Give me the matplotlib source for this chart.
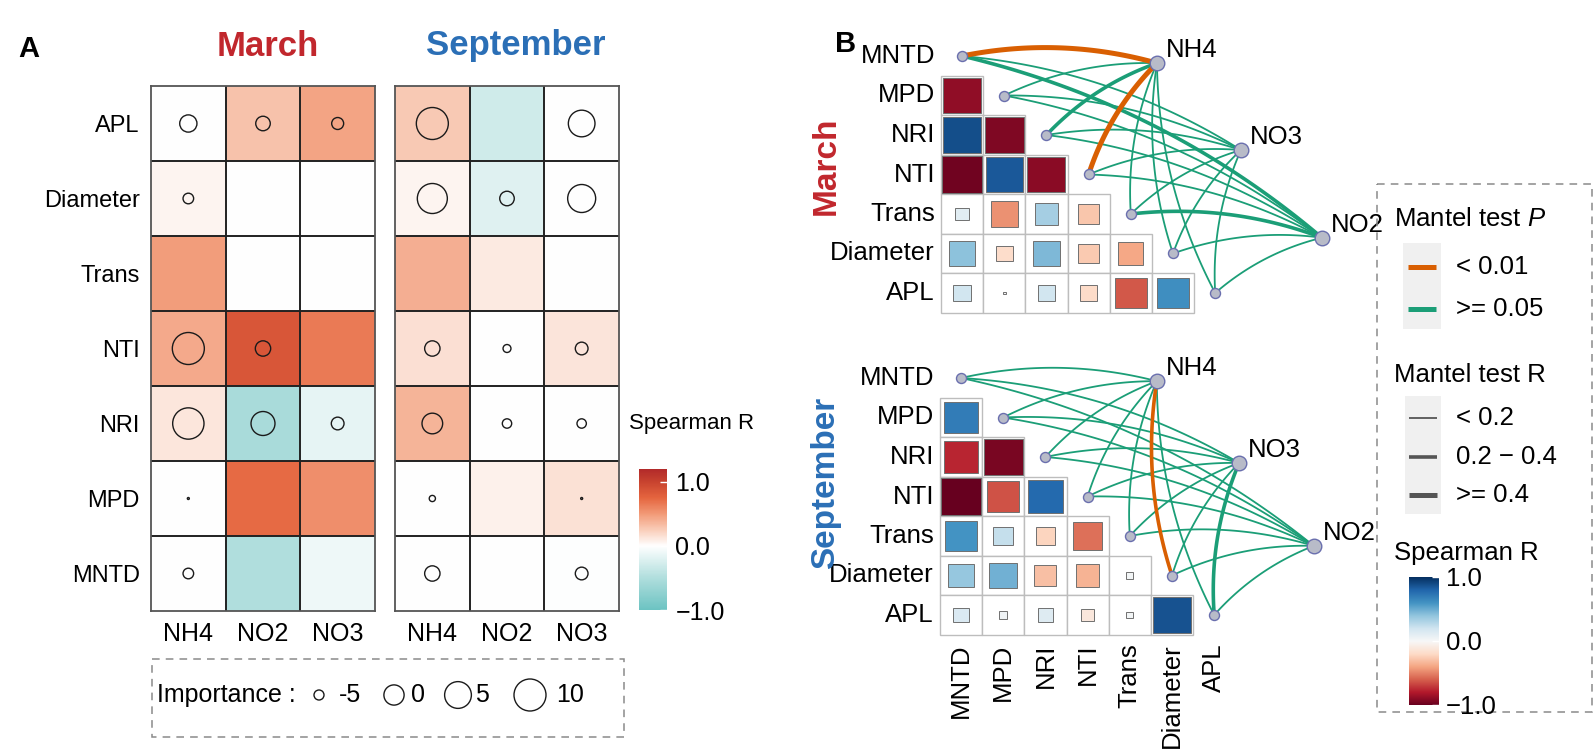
import numpy as np
import matplotlib
matplotlib.use('Agg')
import matplotlib.pyplot as plt
from matplotlib.colors import LinearSegmentedColormap, Normalize
from matplotlib.patches import Rectangle
from matplotlib.cm import ScalarMappable

plt.rcParams['font.family'] = ['Liberation Sans', 'DejaVu Sans']
plt.rcParams['mathtext.fontset'] = 'custom'
plt.rcParams['mathtext.rm'] = 'Liberation Sans'
plt.rcParams['mathtext.it'] = 'Liberation Sans:italic'

nan = np.nan
# ---------------- Panel A data ----------------
a_cols = ['NH4', 'NO2', 'NO3']
a_rows = ['APL', 'Diameter', 'Trans', 'NTI', 'NRI', 'MPD', 'MNTD']
march_rho = [[0.00, 0.30, 0.45],
             [0.05, 0.00, 0.00],
             [0.48, 0.00, 0.00],
             [0.42, 0.85, 0.65],
             [0.12, -0.55, -0.15],
             [0.00, 0.72, 0.55],
             [0.00, -0.50, -0.10]]
march_imp = [[-1.8, -3.2, -4.3],
             [-4.8, nan, nan],
             [nan, nan, nan],
             [10.0, -2.8, nan],
             [9.3, 2.7, -4.0],
             [-6.6, nan, nan],
             [-4.8, nan, nan]]
sept_rho = [[0.27, -0.30, 0.00],
            [0.05, -0.20, 0.00],
            [0.40, 0.10, 0.00],
            [0.16, 0.00, 0.13],
            [0.37, 0.00, 0.00],
            [0.00, 0.07, 0.15],
            [0.00, 0.00, -0.01]]
sept_imp = [[10.0, nan, 4.9],
            [8.0, -3.2, 6.1],
            [nan, nan, nan],
            [-2.8, -5.6, -4.0],
            [0.3, -5.2, -5.2],
            [-6.0, nan, -6.6],
            [-2.8, nan, -4.0]]
imp_legend = [-5, 0, 5, 10]

# ---------------- Panel B data ----------------
spec = ['MNTD', 'MPD', 'NRI', 'NTI', 'Trans', 'Diameter', 'APL']
env_b = ['NH4', 'NO3', 'NO2']
march_corr = [[],
              [-0.89],
              [0.89, -0.93],
              [-0.97, 0.85, -0.90],
              [0.11, -0.46, 0.34, -0.28],
              [0.41, -0.18, 0.45, -0.26, -0.39],
              [0.19, -0.005, 0.19, -0.19, -0.62, 0.62]]
sept_corr = [[],
             [0.70],
             [-0.76, -0.95],
             [-1.00, -0.64, 0.78],
             [0.60, 0.24, -0.22, -0.55],
             [0.39, 0.48, -0.30, -0.35, 0.03],
             [0.15, 0.04, 0.13, -0.11, 0.03, 0.87]]
# Mantel r and p per species variable, columns NH4, NO3, NO2
march_mantel_r = [[0.45, 0.10, 0.30], [0.10, 0.10, 0.10], [0.30, 0.10, 0.10],
                  [0.45, 0.10, 0.10], [0.10, 0.10, 0.30], [0.10, 0.10, 0.10],
                  [0.10, 0.10, 0.10]]
march_mantel_p = [[0.005, 0.30, 0.20], [0.50, 0.50, 0.50], [0.10, 0.50, 0.50],
                  [0.005, 0.50, 0.50], [0.50, 0.50, 0.10], [0.50, 0.50, 0.50],
                  [0.50, 0.50, 0.50]]
sept_mantel_r = [[0.10, 0.10, 0.10], [0.10, 0.10, 0.10], [0.10, 0.10, 0.10],
                 [0.10, 0.10, 0.10], [0.10, 0.10, 0.10], [0.30, 0.10, 0.10],
                 [0.10, 0.30, 0.10]]
sept_mantel_p = [[0.50, 0.50, 0.50], [0.50, 0.50, 0.50], [0.50, 0.50, 0.50],
                 [0.50, 0.50, 0.50], [0.50, 0.50, 0.50], [0.005, 0.50, 0.50],
                 [0.50, 0.20, 0.50]]

W, H = 1595, 752
fig = plt.figure(figsize=(W / 100, H / 100), dpi=100)


def px_axes(x0, y0, x1, y1):
    return fig.add_axes([x0 / W, 1 - y1 / H, (x1 - x0) / W, (y1 - y0) / H])


def ftext(x, y, s, **kw):
    return fig.text(x / W, 1 - y / H, s, **kw)


RED = '#C1272D'
BLUE = '#2B6FB6'
FA = 18      # panel A tick label size
FAR = 17     # panel A row label size
FB = 18.5    # panel B label size

# colormap for panel A
a_vmin, a_vmax = -1.0, 1.2
a_norm = Normalize(a_vmin, a_vmax)
a_nodes = [(-1.0, '#6CC3C2'), (-0.5, '#B0DEDD'), (0.0, '#FFFFFF'), (0.25, '#F9CDB9'),
           (0.5, '#F29A77'), (0.75, '#E5653F'), (1.0, '#C8432F'), (1.2, '#B22A2A')]
a_cmap = LinearSegmentedColormap.from_list('a', [(float(a_norm(v)), c) for v, c in a_nodes])


def imp_radius(v):
    return np.sqrt(np.maximum(102 + 15.4 * np.asarray(v, float), 1.0))


def imp_s(v):
    r = imp_radius(v)
    return (2 * r * 0.72) ** 2


def heat(ax, rho, imp, ylabels):
    data = np.array(rho, float)
    ax.imshow(data, cmap=a_cmap, norm=a_norm, aspect='auto',
              extent=(-0.5, 2.5, 6.5, -0.5), interpolation='nearest')
    ax.set_xlim(-0.5, 2.5)
    ax.set_ylim(6.5, -0.5)
    for k in range(1, 3):
        ax.axvline(k - 0.5, color='#222222', lw=1.4)
    for k in range(1, 7):
        ax.axhline(k - 0.5, color='#222222', lw=1.4)
    for sp in ax.spines.values():
        sp.set_color('#555555')
        sp.set_linewidth(1.3)
    imp_arr = np.array(imp, float)
    yy, xx = np.where(~np.isnan(imp_arr))
    ax.scatter(xx, yy, s=imp_s(imp_arr[yy, xx]), facecolors='none',
               edgecolors='#1a1a1a', linewidths=1.0, zorder=5)
    ax.set_xticks(range(3))
    ax.set_xticklabels(a_cols, fontsize=FA)
    if ylabels:
        ax.set_yticks(range(7))
        ax.set_yticklabels(a_rows, fontsize=FAR)
    else:
        ax.set_yticks([])
    ax.tick_params(length=0, pad=8)


axm = px_axes(151, 86, 375, 611)
heat(axm, march_rho, march_imp, True)
axs = px_axes(395, 86, 619, 611)
heat(axs, sept_rho, sept_imp, False)

ftext(268, 46, 'March', fontsize=25, fontweight='bold', color=RED, ha='center', va='center')
ftext(516, 46, 'September', fontsize=25, fontweight='bold', color=BLUE, ha='center', va='center')
ftext(29, 49, 'A', fontsize=21, fontweight='bold', ha='center', va='center')
ftext(846, 44, 'B', fontsize=21, fontweight='bold', ha='center', va='center')

# colorbar A
cax = px_axes(639, 469, 667, 610)
cb = fig.colorbar(ScalarMappable(a_norm, a_cmap), cax=cax, ticks=[-1, 0, 1])
cb.outline.set_visible(False)
cb.ax.set_yticklabels(['\u22121.0', '0.0', '1.0'], fontsize=FA)
cb.ax.tick_params(length=5, width=1, color='white', direction='in', pad=6)
ftext(629, 424, 'Spearman R', fontsize=16, ha='left', va='center')

# importance legend
axl = px_axes(151, 658, 625, 738)
axl.set_xlim(151, 625)
axl.set_ylim(738, 658)
axl.axis('off')
axl.add_patch(Rectangle((152, 659), 472, 78, fill=False, ls=(0, (5, 4)),
                        ec='#8a8a8a', lw=1.1, clip_on=False))
axl.text(157, 695, 'Importance :', fontsize=FA, ha='left', va='center')
leg_x = [319, 394, 458, 530]
leg_tx = [339, 411, 475, 556]
axl.scatter(leg_x, [695] * 4, s=imp_s(imp_legend), facecolors='none',
            edgecolors='#1a1a1a', linewidths=1.0, clip_on=False)
for tx, v in zip(leg_tx, imp_legend):
    axl.text(tx, 695, str(v), fontsize=FA, ha='left', va='center')

# ---------------- Panel B ----------------
b_norm = Normalize(-1, 1)
b_cmap = plt.get_cmap('RdBu')
ORANGE = '#D95F02'
GREEN = '#1B9E77'


def width_of(r):
    return 1.3 if r < 0.2 else (2.6 if r < 0.4 else 3.6)


def corr_panel(box, ux, uy, cx0, cy0, corr, mr, mp, ex, ey, bottom_labels):
    x0, y0, x1, y1 = box
    ax = px_axes(*box)
    ax.set_xlim((x0 - cx0) / ux, (x1 - cx0) / ux)
    ax.set_ylim((y1 - cy0) / uy, (y0 - cy0) / uy)
    ax.axis('off')
    ax.patch.set_alpha(0)
    for i in range(7):
        for j, r in enumerate(corr[i]):
            ax.add_patch(Rectangle((j - 0.5, i - 0.5), 1, 1, fc='white',
                                   ec='#BDBDBD', lw=1.0, zorder=1))
            side = 0.95 * np.sqrt(abs(r))
            ax.add_patch(Rectangle((j - side / 2, i - side / 2), side, side,
                                   fc=b_cmap(b_norm(r)), ec='#707070', lw=0.7, zorder=2))
    for i, name in enumerate(spec):
        ax.text(-0.5 - 6.0 / ux, i, name, ha='right', va='center', fontsize=FB)
    if bottom_labels:
        for j, name in enumerate(spec):
            ax.text(j, 6.5 + 9.0 / uy, name, rotation=90, ha='center', va='top', fontsize=FB)
    # links (curvature computed in pixel space)
    t = np.linspace(0, 1, 80)
    kc = 0.12
    links = []
    for i in range(7):
        for k in range(3):
            links.append((width_of(mr[i][k]) + (10 if mp[i][k] < 0.01 else 0), i, k))
    for _, i, k in sorted(links):
        xa, ya = i * ux, i * uy
        xb, yb = ex[k] * ux, ey[k] * uy
        dx, dy = xb - xa, yb - ya
        cx = (xa + xb) / 2 + kc * dy
        cy = (ya + yb) / 2 - kc * dx
        bx = (1 - t) ** 2 * xa + 2 * (1 - t) * t * cx + t ** 2 * xb
        by = (1 - t) ** 2 * ya + 2 * (1 - t) * t * cy + t ** 2 * yb
        col = ORANGE if mp[i][k] < 0.01 else GREEN
        ax.plot(bx / ux, by / uy, color=col, lw=width_of(mr[i][k]), solid_capstyle='butt',
                zorder=4, clip_on=False)
    ax.scatter(range(7), range(7), s=52, fc='#B8BBC8', ec='#6A6FAE', lw=1.0,
               zorder=6, clip_on=False)
    ax.scatter(ex, ey, s=110, fc='#B8BBC8', ec='#6A6FAE', lw=1.0,
               zorder=6, clip_on=False)
    for k, name in enumerate(env_b):
        ax.text(ex[k] + 9.0 / ux, ey[k] - 13.0 / uy, name, ha='left', va='center',
                fontsize=FB)
    return ax


UX, UY = 42.2, 39.5
corr_panel((900, 15, 1375, 345), UX, UY, 962, 56, march_corr, march_mantel_r,
           march_mantel_p, [4.62, 6.61, 8.53], [0.18, 2.38, 4.6], False)
corr_panel((900, 330, 1375, 660), UX, UY, 961, 378, sept_corr, sept_mantel_r,
           sept_mantel_p, [4.64, 6.59, 8.36], [0.08, 2.15, 4.25], True)

ftext(826, 166, 'March', fontsize=24, fontweight='bold', color=RED, rotation=90,
      ha='center', va='center')
ftext(826, 483, 'September', fontsize=24, fontweight='bold', color=BLUE, rotation=90,
      ha='center', va='center')

# legend B
lx0, ly0, lx1, ly1 = 1376, 183, 1593, 713
axb = px_axes(lx0, ly0, lx1, ly1)
axb.set_xlim(lx0, lx1)
axb.set_ylim(ly1, ly0)
axb.axis('off')
axb.add_patch(Rectangle((lx0 + 1, ly0 + 1), lx1 - lx0 - 2, ly1 - ly0 - 2, fill=False,
                        ls=(0, (5, 4)), ec='#8a8a8a', lw=1.1, clip_on=False))
axb.text(1394, 219, 'Mantel test $\\mathit{P}$', fontsize=FB, ha='left', va='center')
axb.add_patch(Rectangle((1403, 243), 38, 86, fc='#F0F0F0', ec='none'))
p_labels = ['< 0.01', '>= 0.05']
p_colors = [ORANGE, GREEN]
p_y = [267, 309]
for yv, lab, c in zip(p_y, p_labels, p_colors):
    axb.plot([1408, 1436], [yv, yv], color=c, lw=3.6, solid_capstyle='butt')
    axb.text(1456, yv, lab, fontsize=FB, ha='left', va='center')
axb.text(1394, 375, 'Mantel test R', fontsize=FB, ha='left', va='center')
axb.add_patch(Rectangle((1405, 396), 36, 118, fc='#F0F0F0', ec='none'))
r_labels = ['< 0.2', '0.2 \u2212 0.4', '>= 0.4']
r_rep = [0.1, 0.3, 0.5]
r_y = [418, 457, 495]
for yv, lab, rv in zip(r_y, r_labels, r_rep):
    axb.plot([1409, 1437], [yv, yv], color='#555555', lw=width_of(rv), solid_capstyle='butt')
    axb.text(1456, yv, lab, fontsize=FB, ha='left', va='center')
axb.text(1394, 553, 'Spearman R', fontsize=FB, ha='left', va='center')
cbx = px_axes(1409, 577, 1439, 705)
cb2 = fig.colorbar(ScalarMappable(b_norm, b_cmap), cax=cbx, ticks=[-1, 0, 1])
cb2.outline.set_visible(False)
cb2.ax.set_yticklabels(['\u22121.0', '0.0', '1.0'], fontsize=FB)
cb2.ax.tick_params(length=5, width=1, color='white', direction='in', pad=5)

fig.savefig('out.png', dpi=100)
